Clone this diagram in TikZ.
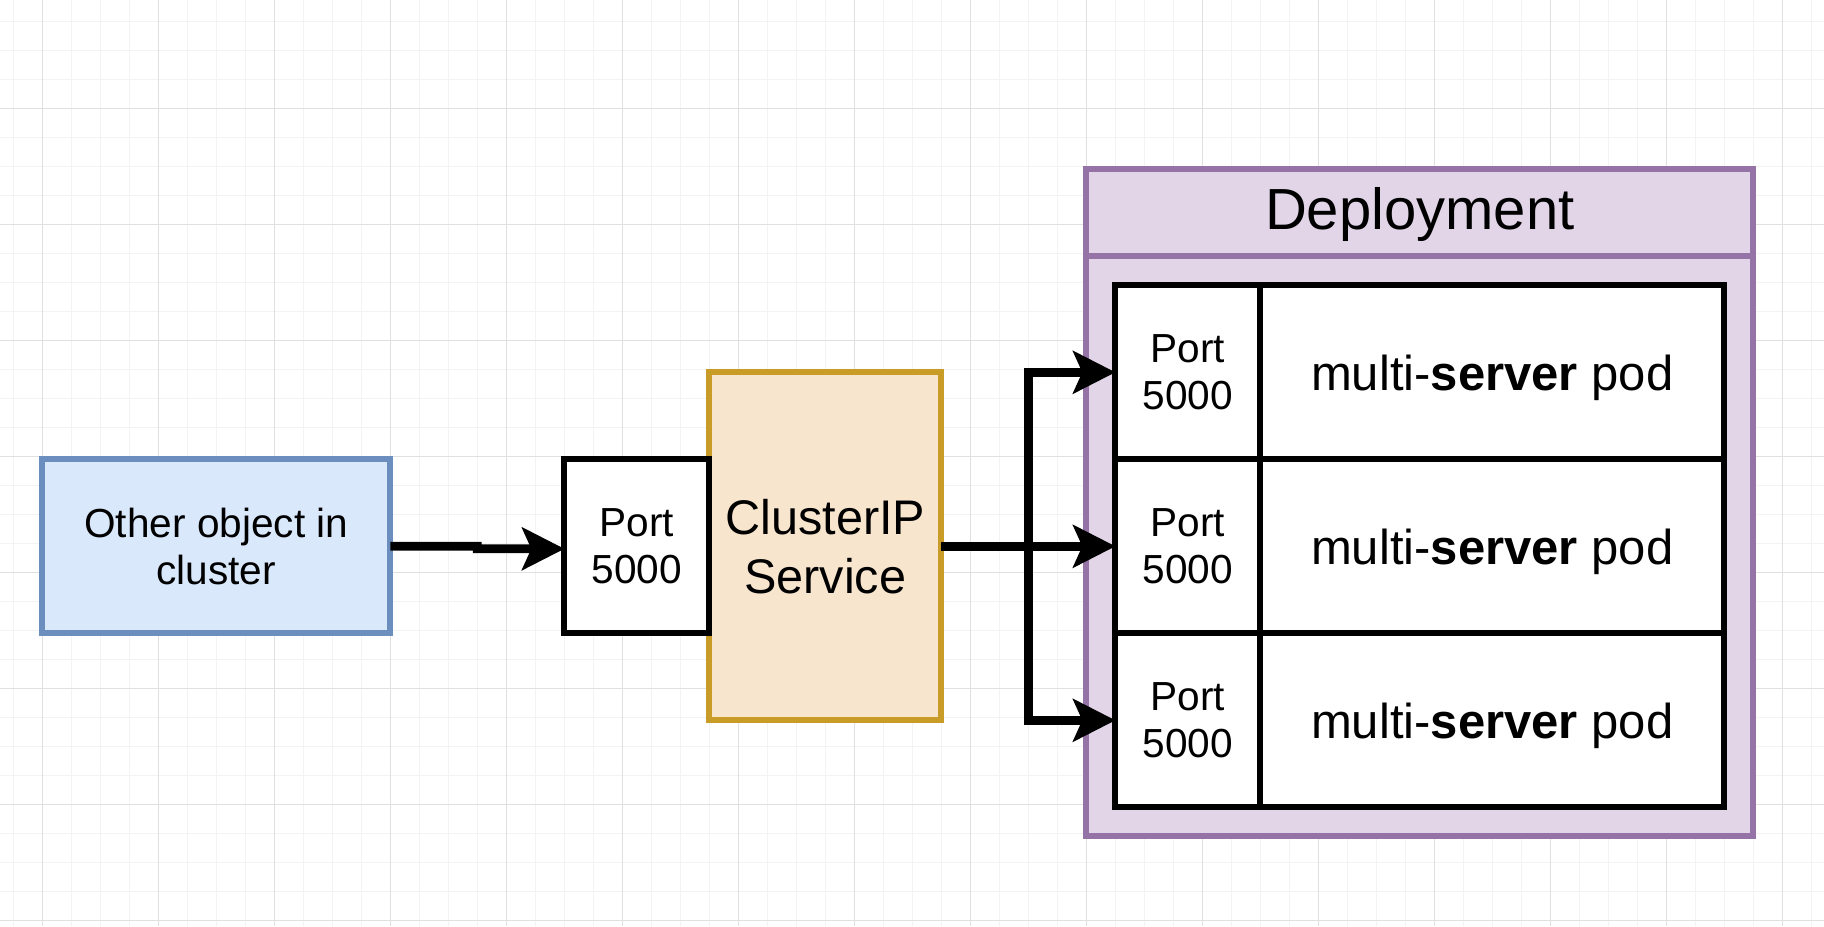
\documentclass[tikz,border=0pt]{standalone}
\usepackage{fontspec}
\setmainfont{Liberation Sans}
\usetikzlibrary{arrows.meta}
\definecolor{blueFill}{HTML}{DAE8FC}
\definecolor{blueLine}{HTML}{6C8EBF}
\definecolor{orangeFill}{HTML}{F8E5CD}
\definecolor{orangeLine}{HTML}{C99B27}
\definecolor{purpleFill}{HTML}{E1D5E7}
\definecolor{purpleLine}{HTML}{9673A6}
\definecolor{gridMinor}{HTML}{F3F3F3}
\definecolor{gridMajor}{HTML}{E0E0E0}
\begin{document}
\begin{tikzpicture}[x=2.9pt,y=-2.9pt,
  box/.style={draw, line width=5.8pt, outer sep=0pt, inner sep=0pt, align=center, text=black},
  whitebox/.style={box, fill=white, draw=black},
  smalltext/.style={font=\fontsize{40.6pt}{46.5pt}\selectfont},
  bigtext/.style={font=\fontsize{48.6pt}{59pt}\selectfont},
  podtext/.style={font=\fontsize{49pt}{59pt}\selectfont, text height=40pt, text depth=3.5pt},
  headtext/.style={font=\fontsize{58pt}{68pt}\selectfont},
  edge/.style={line width=8.7pt, line join=miter, -{Stealth[length=43pt,width=44pt,inset=10pt,line width=0pt]}},
  minorline/.style={draw=gridMinor, line width=1pt},
  majorline/.style={draw=gridMajor, line width=1pt}]
% canvas
\fill[white] (-14.586,-37.345) rectangle (614.38,281.97);
\useasboundingbox (-14.586,-37.345) rectangle (614.38,281.97);
% grid
\foreach \gx in {-10,0,...,610} {\draw[minorline] (\gx,-37.345) -- (\gx,281.97);}
\foreach \gy in {-30,-20,...,280} {\draw[minorline] (-14.586,\gy) -- (614.38,\gy);}
\foreach \gx in {0,40,...,600} {\draw[majorline] (\gx,-37.345) -- (\gx,281.97);}
\foreach \gy in {0,40,...,280} {\draw[majorline] (-14.586,\gy) -- (614.38,\gy);}
\begin{scope}[yshift=-3pt]
% other object
\node[box, smalltext, fill=blueFill, draw=blueLine, minimum width=348pt, minimum height=174pt] (other) at (60,150) {Other object in\\cluster};
% ClusterIP service
\node[box, bigtext, fill=orangeFill, draw=orangeLine, minimum width=232pt, minimum height=348pt] (svc) at (270,150) {ClusterIP\\Service};
\node[whitebox, smalltext, minimum width=145pt, minimum height=174pt] (sport) at (205,150) {Port\\5000};
% deployment
\node[box, fill=purpleFill, draw=purpleLine, minimum width=667pt, minimum height=667pt] (dep) at (475,135) {};
\draw[draw=purpleLine, line width=5.8pt] (360,50) -- (590,50);
\node[headtext, text=black] (dephead) at (475,35.6) {Deployment};
\foreach \i/\py in {1/90,2/150,3/210} {
  \node[whitebox, smalltext, minimum width=145pt, minimum height=174pt] (port\i) at (395,\py) {Port\\5000};
  \node[whitebox, podtext, minimum width=464pt, minimum height=174pt] (pod\i) at (500,\py) {multi-\textbf{server} pod};
}
% connectors
\coordinate (jog1) at (150,150);
\coordinate (jog2) at (150,150.85);
\draw[edge] (other.east) -- (jog1) -- (jog2) -- ([yshift=-2.5pt]sport.west);
\coordinate (br) at (340,150);
\draw[edge] (svc.east) -- (br) |- (port1.west);
\draw[edge] (svc.east) -- (br) |- (port3.west);
\draw[edge] (svc.east) -- (port2.west);
\end{scope}
\end{tikzpicture}
\end{document}
